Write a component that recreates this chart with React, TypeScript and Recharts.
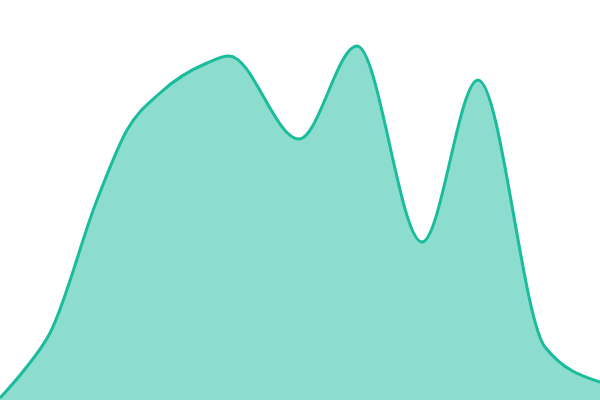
import React from "react";
import { AreaChart, Area, XAxis, YAxis } from "recharts";

const xs = [0, 25, 50, 97, 127, 160, 207, 229, 299, 357, 422, 478, 545, 600];
const values = [2, 31, 67, 200, 270, 307, 337, 344, 261, 354, 158, 320, 53, 18];

const data = xs.map((x, i) => ({ x, value: values[i] }));

export default function App() {
  return (
    <div style={{ position: "absolute", left: 0, top: 0 }}>
      <AreaChart width={600} height={400} data={data} margin={{ top: 0, right: 0, bottom: 0, left: 0 }}>
        <XAxis dataKey="x" type="number" domain={[0, 600]} hide />
        <YAxis hide domain={[0, 400]} />
        <Area
          type="monotone"
          dataKey="value"
          stroke="#1abc9c"
          strokeWidth={3}
          fill="#1abc9c"
          fillOpacity={0.5}
          dot={false}
          activeDot={false}
          isAnimationActive={false}
        />
      </AreaChart>
    </div>
  );
}
